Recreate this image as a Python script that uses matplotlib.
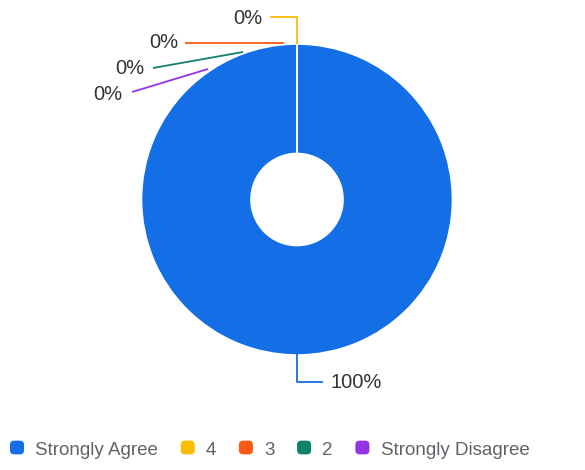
import matplotlib
matplotlib.use("Agg")
import matplotlib.pyplot as plt
from matplotlib.patches import FancyBboxPatch
from matplotlib.legend_handler import HandlerPatch

plt.rcParams['font.family'] = ['Liberation Sans', 'DejaVu Sans']

# Data
categories = ["Strongly Agree", "4", "3", "2", "Strongly Disagree"]
values = [100, 0, 0, 0, 0]
labels = ["100%", "0%", "0%", "0%", "0%"]
colors = ["#146ee6", "#fbbc04", "#fa5a14", "#12806f", "#9334e6"]

W, H = 585, 470


class RoundBox(HandlerPatch):
    def create_artists(self, legend, orig, xd, yd, w, h, fontsize, trans):
        p = FancyBboxPatch((xd, yd), w, h,
                           boxstyle="round,pad=0,rounding_size=3",
                           facecolor=orig.get_facecolor(), edgecolor="none",
                           transform=trans)
        return [p]


fig = plt.figure(figsize=(W / 100, H / 100), dpi=100)
ax = fig.add_axes([0, 0, 1, 1])

# pixel-like coordinates, y measured from the top
def py(y):
    return H - y

cx, cy, r_out, r_in = 297, 199.5, 155.5, 46
wedges, _ = ax.pie(values, colors=colors, startangle=90, counterclock=False,
                   radius=r_out, center=(cx, py(cy)),
                   wedgeprops=dict(width=r_out - r_in, edgecolor="white",
                                   linewidth=1.2))

# leader lines (layout) and label anchors for each slice
leaders = [
    ([(297, 353), (297, 382), (323, 382)], (331, 383), "left"),
    ([(297, 44), (297, 17), (270, 17)], (262, 18), "right"),
    ([(284, 43), (185, 43)], (178, 43), "right"),
    ([(243, 52), (153, 68)], (144, 68), "right"),
    ([(208, 69), (132, 92)], (122, 95), "right"),
]
for (pts, (tx, ty), ha), lab, col in zip(leaders, labels, colors):
    xs = [p[0] for p in pts]
    ys = [py(p[1]) for p in pts]
    ax.plot(xs, ys, color=col, lw=1.3, solid_capstyle="butt")
    ax.text(tx, py(ty), lab, ha=ha, va="center", fontsize=14.5, color="#333333")

ax.set_xlim(0, W)
ax.set_ylim(0, H)
ax.set_aspect("equal")
ax.axis("off")

ax.legend(wedges, categories, loc="center left",
          bbox_to_anchor=(10 / W, 1 - 450 / H), borderaxespad=0, borderpad=0,
          ncol=5, frameon=False, fontsize=13.5, labelcolor="#5f6368",
          handlelength=0.75, handleheight=0.75, handletextpad=0.6,
          columnspacing=1.2, handler_map={w: RoundBox() for w in wedges})

fig.savefig("out.png", dpi=100)
